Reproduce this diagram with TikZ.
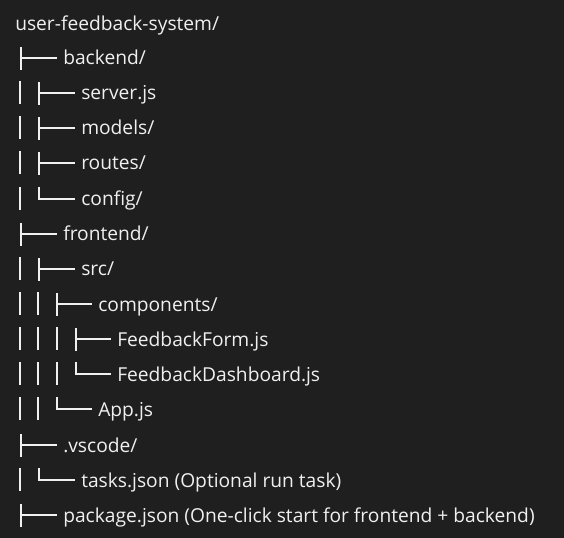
\documentclass[tikz,border=0pt]{standalone}
\usepackage{fontspec}
\setmainfont{Open Sans}
\definecolor{bg}{HTML}{1F1F1F}
\definecolor{fg}{HTML}{F0F0F0}

\begin{document}
\begin{tikzpicture}[x=0.75pt,y=-0.75pt]
\tikzstyle{every node}+=[inner sep=0pt,anchor=base west,text=fg,font=\fontsize{14.4}{17}\selectfont]
\tikzstyle{twig}=[fg,line width=1.5pt]
\fill [bg] (0,0) rectangle (564,538);
\useasboundingbox (0,0) rectangle (564,538);
\node (root) at (15,31) {user-feedback-system/};
% backend
\coordinate (t1) at (21,58);
\node (backend) at (63,65) {backend/};
\draw [twig] (t1) ++(0,-11) -- ++(0,23);
\draw [twig,shorten >=4.5pt] (t1) -- (t1 -| backend.west);
\draw [twig] (20,81) -- (20,104);
\coordinate (t2) at (39,93);
\node (server) at (81,100) {server.js};
\draw [twig] (t2) ++(0,-11) -- ++(0,23);
\draw [twig,shorten >=4.5pt] (t2) -- (t2 -| server.west);
\draw [twig] (20,116) -- (20,139);
\coordinate (t3) at (39,128);
\node (models) at (81,135) {models/};
\draw [twig] (t3) ++(0,-11) -- ++(0,23);
\draw [twig,shorten >=4.5pt] (t3) -- (t3 -| models.west);
\draw [twig] (20,151) -- (20,174);
\coordinate (t4) at (39,163);
\node (routes) at (81,170) {routes/};
\draw [twig] (t4) ++(0,-11) -- ++(0,23);
\draw [twig,shorten >=4.5pt] (t4) -- (t4 -| routes.west);
\draw [twig] (20,187) -- (20,210);
\coordinate (t5) at (39,199);
\node (config) at (81,206) {config/};
\draw [twig,shorten >=4.5pt] (t5) ++(0,-12) -- (t5) -- (t5 -| config.west);
% frontend
\coordinate (t6) at (21,234);
\node (frontend) at (63,241) {frontend/};
\draw [twig] (t6) ++(0,-11) -- ++(0,23);
\draw [twig,shorten >=4.5pt] (t6) -- (t6 -| frontend.west);
\draw [twig] (20,257) -- (20,280);
\coordinate (t7) at (39,269);
\node (src) at (81,276) {src/};
\draw [twig] (t7) ++(0,-11) -- ++(0,23);
\draw [twig,shorten >=4.5pt] (t7) -- (t7 -| src.west);
\draw [twig] (20,292) -- (20,315);
\draw [twig] (38,292) -- (38,315);
\coordinate (t8) at (57,304);
\node (components) at (98,311) {components/};
\draw [twig] (t8) ++(0,-11) -- ++(0,23);
\draw [twig,shorten >=4.5pt] (t8) -- (t8 -| components.west);
\draw [twig] (20,327) -- (20,350);
\draw [twig] (38,327) -- (38,350);
\draw [twig] (57,327) -- (57,350);
\coordinate (t9) at (76,339);
\node (form) at (117,346) {FeedbackForm.js};
\draw [twig] (t9) ++(0,-11) -- ++(0,23);
\draw [twig,shorten >=4.5pt] (t9) -- (t9 -| form.west);
\draw [twig] (20,362) -- (20,385);
\draw [twig] (38,362) -- (38,385);
\draw [twig] (57,362) -- (57,385);
\coordinate (t10) at (76,374);
\node (dashboard) at (117,381) {FeedbackDashboard.js};
\draw [twig,shorten >=4.5pt] (t10) ++(0,-12) -- (t10) -- (t10 -| dashboard.west);
\draw [twig] (20,397) -- (20,420);
\draw [twig] (38,397) -- (38,420);
\coordinate (t11) at (57,409);
\node (app) at (98,416) {App.js};
\draw [twig,shorten >=4.5pt] (t11) ++(0,-12) -- (t11) -- (t11 -| app.west);
% vscode
\coordinate (t12) at (21,445);
\node (vscode) at (63,452) {.vscode/};
\draw [twig] (t12) ++(0,-11) -- ++(0,23);
\draw [twig,shorten >=4.5pt] (t12) -- (t12 -| vscode.west);
\draw [twig] (20,468) -- (20,491);
\coordinate (t13) at (39,480);
\node (tasks) at (81,487) {tasks.json (Optional run task)};
\draw [twig,shorten >=4.5pt] (t13) ++(0,-12) -- (t13) -- (t13 -| tasks.west);
% package
\coordinate (t14) at (21,515);
\node (package) at (63,522) {package.json (One-click start for frontend + backend)};
\draw [twig] (t14) ++(0,-11) -- ++(0,23);
\draw [twig,shorten >=4.5pt] (t14) -- (t14 -| package.west);
\end{tikzpicture}
\end{document}
